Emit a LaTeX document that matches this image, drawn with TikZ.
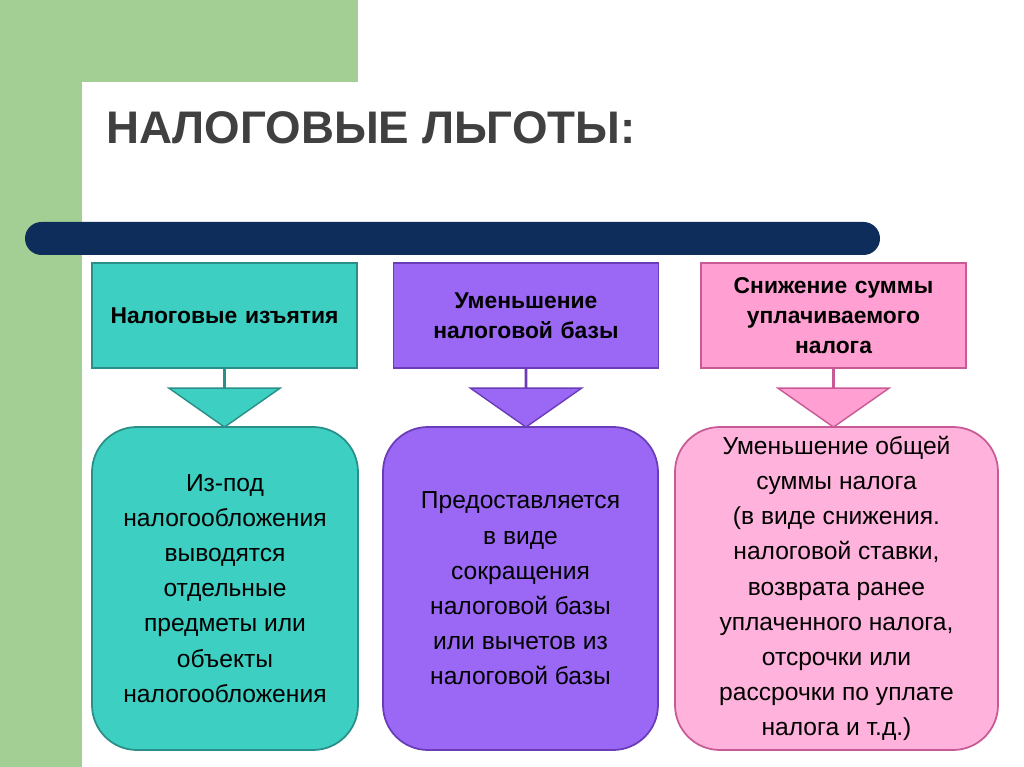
\documentclass[tikz,border=0pt]{standalone}
\usepackage{fontspec}
\setmainfont{Liberation Sans}
\usetikzlibrary{shapes.arrows}
\definecolor{bggreen}{HTML}{A3CF94}
\definecolor{navy}{HTML}{0F2D5A}
\definecolor{tealfill}{HTML}{3DCFC2}
\definecolor{tealline}{HTML}{2A8F88}
\definecolor{violfill}{HTML}{9A68F4}
\definecolor{violline}{HTML}{6A3CB8}
\definecolor{pinkfill}{HTML}{FF9FD2}
\definecolor{pinkline}{HTML}{C85A95}
\tikzstyle{headbox} = [rectangle, minimum width=5.3cm, minimum height=2.1cm, text width=4.8cm, align=center, font=\bfseries\fontsize{13}{17}\selectfont, line width=1pt]
\tikzstyle{bodybox} = [rectangle, rounded corners=0.9cm, minimum height=6.46cm, align=center, font=\fontsize{14}{20}\selectfont, line width=1pt]
\tikzstyle{downarrow} = [single arrow, shape border rotate=270, single arrow head extend=1.1cm, single arrow tip angle=110, minimum width=1.64cm, minimum height=1.15cm, inner sep=0pt, line width=0.8pt]

\begin{document}
\begin{tikzpicture}
\useasboundingbox (0,0) rectangle (20.48,-15.34);
\fill[white] (0,0) rectangle (20.48,-15.34);
\fill[bggreen] (0,0) rectangle (7.16,-1.64);
\fill[bggreen] (0,0) rectangle (1.64,-15.34);
\fill[white] (1.64,-1.64) rectangle (20.48,-15.34);

\node (title) [anchor=west, font=\bfseries\fontsize{26}{30}\selectfont, text=black!75] at (2.0,-2.56) {НАЛОГОВЫЕ ЛЬГОТЫ:};
\fill[navy, rounded corners=0.33cm] (0.5,-4.44) rectangle (17.6,-5.1);
\fill[navy] (8,-4.44) rectangle (17.1,-5.1);

\node (exempt) [headbox, fill=tealfill, draw=tealline] at (4.49,-6.31) {Налоговые изъятия};
\node (reduce) [headbox, fill=violfill, draw=violline] at (10.52,-6.31) {Уменьшение налоговой базы};
\node (lower) [headbox, fill=pinkfill, draw=pinkline] at (16.67,-6.31) {Снижение суммы уплачиваемого налога};

\node (arrA) [downarrow, fill=tealfill, draw=tealline, anchor=tail] at (exempt.south) {};
\node (arrB) [downarrow, fill=violfill, draw=violline, anchor=tail] at (reduce.south) {};
\node (arrC) [downarrow, fill=pinkfill, draw=pinkline, anchor=tail] at (lower.south) {};

\node (exemptText) [bodybox, minimum width=5.32cm, fill=tealfill, draw=tealline] at (4.5,-11.77) {Из-под\\налогообложения\\выводятся\\отдельные\\предметы или\\объекты\\налогообложения};
\node (reduceText) [bodybox, minimum width=5.5cm, fill=violfill, draw=violline] at (10.41,-11.77) {Предоставляется\\в виде\\сокращения\\налоговой базы\\или вычетов из\\налоговой базы};
\node (lowerText) [bodybox, minimum width=6.46cm, fill=pinkfill!80!white, draw=pinkline] at (16.73,-11.77) {Уменьшение общей\\суммы налога\\(в виде снижения.\\налоговой ставки,\\возврата ранее\\уплаченного налога,\\отсрочки или\\рассрочки по  уплате\\налога и т.д.)};
\end{tikzpicture}
\end{document}
